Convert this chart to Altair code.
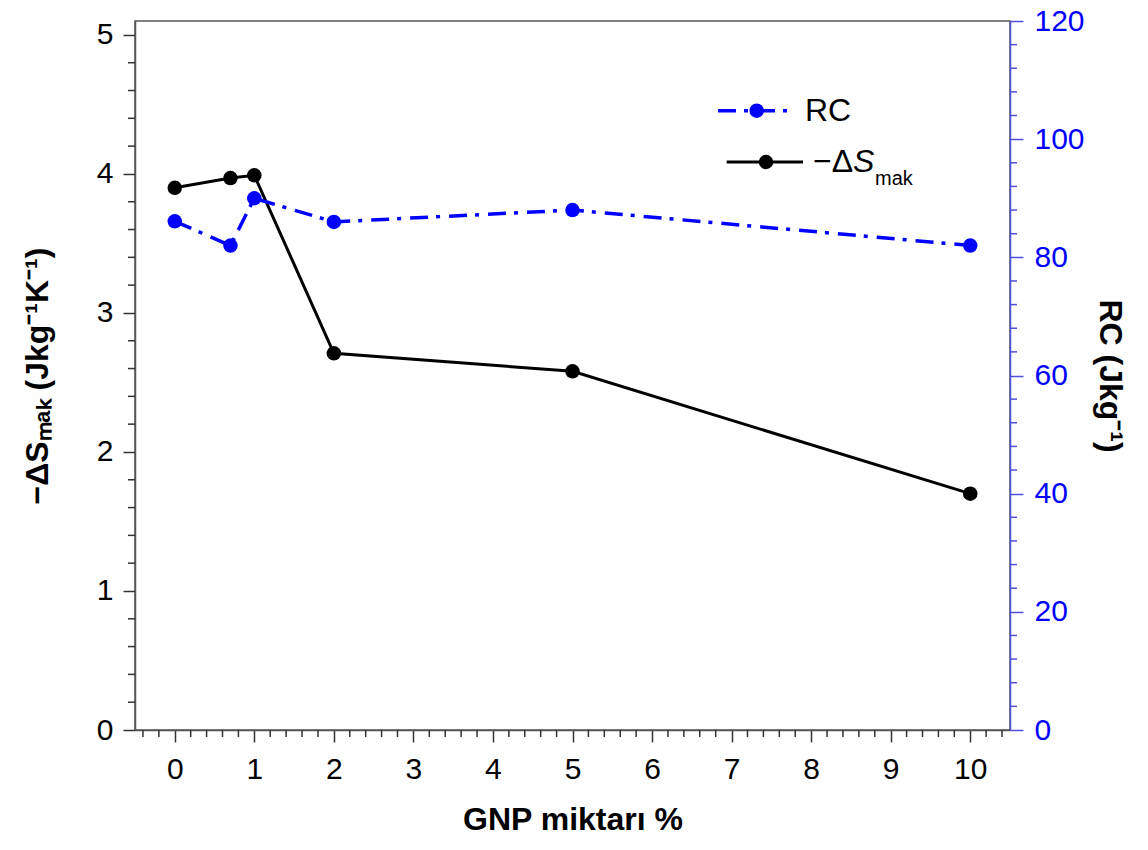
import altair as alt
import pandas as pd

# ---- data ----
gnp = [0, 0.7, 1, 2, 5, 10]
ds_mak = [3.90, 3.97, 3.99, 2.71, 2.58, 1.70]
rc = [86.1, 82.0, 90.0, 86.0, 88.0, 82.0]

x_ticks = list(range(0, 11))
x_minor = [round(-0.4 + 0.2 * i, 1) for i in range(55)]
x_minor = [v for v in x_minor if abs(v - round(v)) > 1e-6 and v <= 10.5]
left_ticks = [0, 1, 2, 3, 4, 5]
left_minor = [round(0.2 * i, 1) for i in range(1, 26) if i % 5 != 0]
right_ticks = [0, 20, 40, 60, 80, 100, 120]
right_minor = [4 * i for i in range(1, 30) if (4 * i) % 20 != 0]

W, H = 875, 709
FONT = "Liberation Sans"
BLUE = "#0000ff"
RAXIS = "#5050d8"
DARK = "#333333"
DASH = [18, 8, 4, 9]

df = pd.DataFrame({"gnp": gnp, "ds": ds_mak, "rc": rc})

xscale = alt.Scale(domain=[-0.5, 10.5], nice=False, zero=False)
xaxis = alt.Axis(values=x_ticks, title="GNP miktarı %", tickSize=12,
                 labelPadding=12, titlePadding=20, format="d")
X = alt.X("gnp:Q", scale=xscale, axis=xaxis)

lscale = alt.Scale(domain=[0, 5.1], nice=False)
laxis = alt.Axis(values=left_ticks, title="−ΔSₘₐₖ (Jkg⁻¹K⁻¹)", tickSize=12,
                 labelPadding=10, titlePadding=42, format="d")
YL = alt.Y("ds:Q", scale=lscale, axis=laxis)

rscale = alt.Scale(domain=[0, 120], nice=False)
raxis = alt.Axis(values=right_ticks, title="RC (Jkg⁻¹)", orient="right",
                 tickSize=13, labelPadding=11, titlePadding=8,
                 labelColor=BLUE, tickColor=RAXIS, domainColor=RAXIS,
                 titleColor="black", format="d")
YR = alt.Y("rc:Q", scale=rscale, axis=raxis)

base = alt.Chart(df)

black_line = base.mark_line(color="black", strokeWidth=3).encode(x=X, y=YL)
black_pts = base.mark_circle(color="black", size=210, opacity=1).encode(x=X, y=YL)
lminor = alt.Chart(pd.DataFrame({"ds": left_minor})).mark_rule(
    color=DARK, strokeWidth=1.5).encode(y=YL, x=alt.value(0), x2=alt.value(-7))
left = alt.layer(black_line, black_pts, lminor)

blue_line = base.mark_line(color=BLUE, strokeWidth=3.5, strokeDash=DASH).encode(x=X, y=YR)
blue_pts = base.mark_circle(color=BLUE, size=210, opacity=1).encode(x=X, y=YR)
rminor = alt.Chart(pd.DataFrame({"rc": right_minor})).mark_rule(
    color=RAXIS, strokeWidth=1.5).encode(y=YR, x=alt.value(W), x2=alt.value(W + 7))
right = alt.layer(blue_line, blue_pts, rminor)

xminor = alt.Chart(pd.DataFrame({"gnp": x_minor})).mark_rule(
    color=DARK, strokeWidth=1.5).encode(x=X, y=alt.value(H), y2=alt.value(H + 7))

one = alt.Chart(pd.DataFrame({"a": [0]}))
leg = [
    one.mark_rule(color=BLUE, strokeWidth=3.5, strokeDash=DASH).encode(
        x=alt.value(583), x2=alt.value(661), y=alt.value(89.7)),
    one.mark_circle(color=BLUE, size=210, opacity=1).encode(
        x=alt.value(621.7), y=alt.value(89.7)),
    one.mark_text(text="RC", align="left", baseline="alphabetic", fontSize=32,
                  font=FONT, color="black").encode(x=alt.value(670), y=alt.value(100)),
    one.mark_rule(color="black", strokeWidth=3).encode(
        x=alt.value(591.7), x2=alt.value(668), y=alt.value(141)),
    one.mark_circle(color="black", size=210, opacity=1).encode(
        x=alt.value(631), y=alt.value(141)),
    one.mark_text(text="−Δ", align="left", baseline="alphabetic", fontSize=32,
                  font=FONT, color="black").encode(x=alt.value(678), y=alt.value(151)),
    one.mark_text(text="S", align="left", baseline="alphabetic", fontSize=32,
                  font=FONT, fontStyle="italic", color="black").encode(
        x=alt.value(718), y=alt.value(151)),
    one.mark_text(text="mak", align="left", baseline="alphabetic", fontSize=20,
                  font=FONT, color="black").encode(x=alt.value(740), y=alt.value(164)),
]

chart = alt.layer(left, right, xminor, *leg).resolve_scale(y="independent").properties(
    width=W, height=H,
    autosize=alt.AutoSizeParams(type="none"),
    padding={"left": 127, "top": 13, "right": 130, "bottom": 112},
).configure_view(stroke="#555555", strokeWidth=1.5).configure_axis(
    grid=False, labelFont=FONT, titleFont=FONT, labelFontSize=30,
    titleFontSize=32, titleFontWeight="bold", labelColor="black",
    titleColor="black", domainColor="#555555", tickColor=DARK,
    domainWidth=1.5, tickWidth=1.5,
)

chart.save("out.html", embed_options={"renderer": "svg", "actions": False})
